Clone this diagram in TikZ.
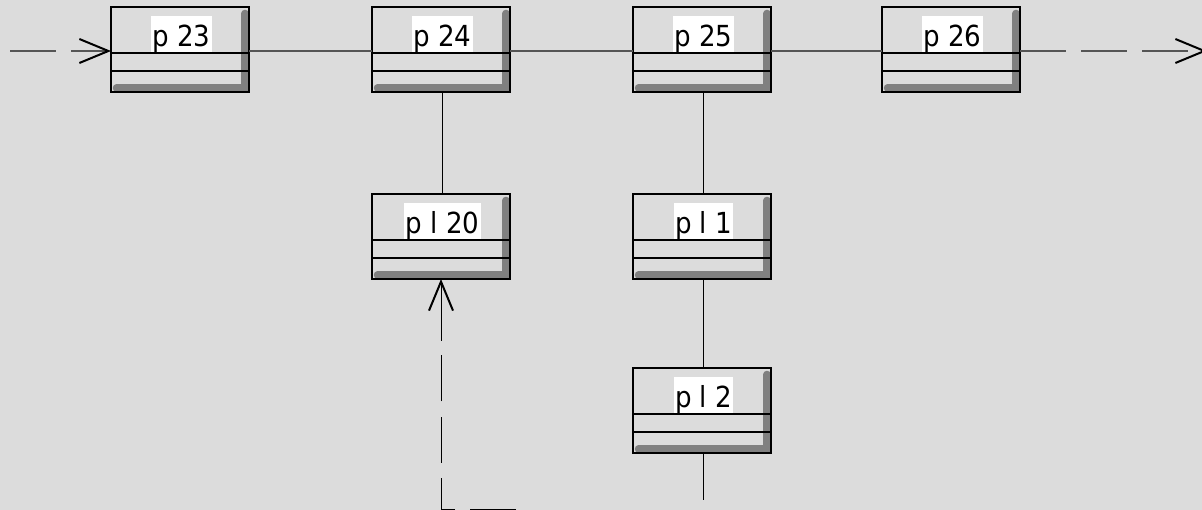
\documentclass[tikz,border=0pt]{standalone}
\usepackage{fontspec}
\setmainfont{DejaVu Sans}
\newfontfamily\capfont{DejaVu Sans Condensed}
\usetikzlibrary{arrows.meta,calc}
\definecolor{bg}{RGB}{220,220,220}
\definecolor{shade}{RGB}{128,128,128}
\definecolor{wirecol}{RGB}{85,85,85}

\tikzset{
  box/.style={minimum width=138pt, minimum height=85pt, inner sep=0pt, outer sep=0pt, anchor=north west},
  boxshadow/.style={draw=shade, line width=7.5pt, line cap=round, line join=round},
  boxline/.style={draw=black, line width=1.2pt},
  caption/.style={fill=white, inner xsep=1.5pt, inner ysep=0pt, text height=30pt, text depth=6pt,
    font=\capfont\fontsize{29}{29}\selectfont, anchor=north},
  wire/.style={draw=wirecol, line width=1.2pt},
  link/.style={draw=black, line width=1pt},
  dashwire/.style={wire, dash pattern=on 46pt off 15pt},
  barb/.style={-{Straight Barb[length=29pt,width=24pt,line width=2pt,color=black]}},
}

% class box: name, x, y (top-left corner), label
\newcommand\classbox[4]{%
  \node[box] (#1) at (#2,#3) {};
  \draw[boxshadow] ([xshift=-4pt,yshift=-6.5pt]#1.north east)
    -- ([xshift=-4pt,yshift=4pt]#1.south east)
    -- ([xshift=5.5pt,yshift=4pt]#1.south west);
  \draw[boxline] (#1.north west) rectangle (#1.south east);
  \draw[boxline] ([yshift=-46pt]#1.north west) -- ([yshift=-46pt]#1.north east);
  \draw[boxline] ([yshift=-64pt]#1.north west) -- ([yshift=-64pt]#1.north east);
  \node[caption] (#1-name) at ([xshift=1.5pt,yshift=-9pt]#1.north) {#4};
}

\begin{document}
\begin{tikzpicture}[x=1pt,y=-1pt]
  \fill[bg] (0,0) rectangle (1202,510);
  \useasboundingbox (0,0) rectangle (1202,510);

  % main chain
  \classbox{p23}{111}{7}{p 23}
  \classbox{p24}{372}{7}{p 24}
  \classbox{p25}{633}{7}{p 25}
  \classbox{p26}{882}{7}{p 26}

  % hanging boxes
  \classbox{pl20}{372}{194}{p l 20}
  \classbox{pl1}{633}{194}{p l 1}
  \classbox{pl2}{633}{368}{p l 2}

  % chain links
  \coordinate (inL) at (10,51);
  \coordinate (outR) at (1207,51);
  \draw[dashwire,barb] (inL) -- ([yshift=-1.5pt]p23.west);
  \draw[wire] ([yshift=-1.5pt]p23.east) -- ([yshift=-1.5pt]p24.west);
  \draw[wire] ([yshift=-1.5pt]p24.east) -- ([yshift=-1.5pt]p25.west);
  \draw[wire] ([yshift=-1.5pt]p25.east) -- ([yshift=-1.5pt]p26.west);
  \draw[dashwire,barb] ([yshift=-1.5pt]p26.east) -- (outR);

  % vertical links
  \draw[link] ([xshift=1pt]p24.south) -- ([xshift=1pt]pl20.north);
  \draw[link] ([xshift=1pt]p25.south) -- ([xshift=1pt]pl1.north);
  \draw[link] ([xshift=1pt]pl1.south) -- ([xshift=1pt]pl2.north);
  \coordinate (stub) at (703,500);
  \draw[link] ([xshift=1pt]pl2.south) -- (stub);

  % dashed return into p l 20
  \coordinate (loopEnd) at (516,509.5);
  \coordinate (loopBend) at (441,341);
  \draw[link, dash pattern=on 46pt off 15pt] (loopEnd) -| (loopBend);
  \draw[link, barb] (loopBend) -- (pl20.south);
\end{tikzpicture}
\end{document}
